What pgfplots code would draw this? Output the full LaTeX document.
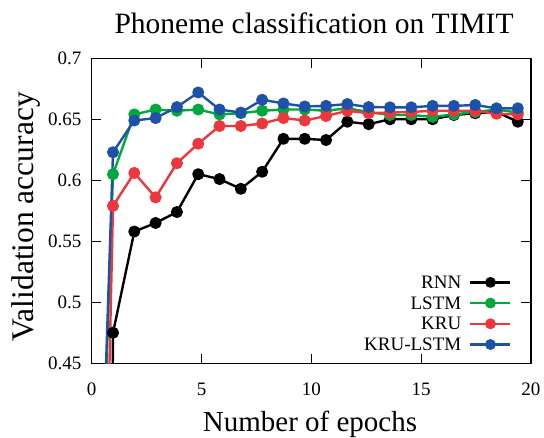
\documentclass[border=0pt]{standalone}
\usepackage{fontspec}
\setmainfont{Liberation Serif}
\usepackage{pgfplots}
\pgfplotsset{compat=1.18}
\definecolor{cgreen}{RGB}{0,168,62}
\definecolor{cred}{RGB}{236,56,60}
\definecolor{cblue}{RGB}{30,82,168}
\begin{document}
\begin{tikzpicture}
\begin{axis}[
  scale only axis, width=439.3pt, height=305pt,
  xmin=0, xmax=20, ymin=0.45, ymax=0.7,
  xtick={0,5,10,15,20}, ytick={0.45,0.5,0.55,0.6,0.65,0.7},
  xticklabels={0,5,10,15,20},
  yticklabels={0.45,0.5,0.55,0.6,0.65,0.7},
  tick pos=both, tick align=inside, major tick length=9.5pt,
  minor tick num=0,
  axis line style={line width=1.2pt},
  every tick/.style={line width=1pt, black},
  ticklabel style={font=\fontsize{19}{21}\selectfont\rmfamily, inner sep=0pt},
  xticklabel style={yshift=-19.4pt},
  yticklabel style={xshift=-10pt},
  every axis title shift=0pt,
  title={Phoneme classification on TIMIT},
  title style={font=\fontsize{29.5}{32}\selectfont, at={(axis description cs:0.5061,1.082)}, anchor=base, inner sep=0pt},
  xlabel={Number of epochs},
  xlabel style={font=\fontsize{29}{32}\selectfont, at={(axis description cs:0.4969,-0.2250)}, anchor=base, inner sep=0pt},
  ylabel={Validation accuracy},
  ylabel style={font=\fontsize{31.5}{34}\selectfont, at={(axis description cs:-0.1336,0.4803)}, anchor=base, inner sep=0pt},
  legend style={draw=none, fill=none, at={(axis description cs:0.956,0.0413)}, anchor=south east,
    inner sep=0pt, outer sep=0pt, column sep=8pt, row sep=8.3pt,
    font=\fontsize{19}{21}\selectfont,
    nodes={inner sep=0pt, text height=12.4pt, text depth=0pt}},
  legend cell align=right, legend plot pos=right,
  legend image code/.code={\draw[mark repeat=2, mark phase=2, mark size=4.2pt] plot coordinates {(0pt,0pt) (20pt,0pt) (40pt,0pt)};},
  every axis plot/.append style={line width=2.4pt, mark=*, mark size=4.8pt, line join=round},
]
\addplot[color=black, mark options={solid, fill=black}] coordinates {
 (0.9,0.30) (0.97,0.475) (1.94,0.558) (2.91,0.565) (3.88,0.574) (4.85,0.605)
 (5.82,0.601) (6.79,0.593) (7.76,0.607) (8.73,0.634) (9.70,0.634)
 (10.67,0.633) (11.64,0.648) (12.61,0.646) (13.58,0.650) (14.55,0.650)
 (15.52,0.650) (16.49,0.6535) (17.46,0.655) (18.43,0.656) (19.40,0.648)};
\addlegendentry{RNN}
\addplot[color=cgreen, mark options={solid, fill=cgreen}] coordinates {
 (0.2,0.20) (0.97,0.605) (1.94,0.654) (2.91,0.658) (3.88,0.657) (4.85,0.658)
 (5.82,0.654) (6.79,0.655) (7.76,0.657) (8.73,0.658) (9.70,0.658)
 (10.67,0.657) (11.64,0.659) (12.61,0.656) (13.58,0.6535) (14.55,0.6535)
 (15.52,0.652) (16.49,0.654) (17.46,0.656) (18.43,0.658) (19.40,0.6555)};
\addlegendentry{LSTM}
\addplot[color=cred, mark options={solid, fill=cred}] coordinates {
 (0.5,0.20) (0.97,0.579) (1.94,0.606) (2.91,0.586) (3.88,0.614) (4.85,0.630)
 (5.82,0.6445) (6.79,0.6445) (7.76,0.6465) (8.73,0.651) (9.70,0.649)
 (10.67,0.6527) (11.64,0.657) (12.61,0.655) (13.58,0.6555) (14.55,0.656)
 (15.52,0.657) (16.49,0.657) (17.46,0.657) (18.43,0.6545) (19.40,0.654)};
\addlegendentry{KRU}
\addplot[color=cblue, mark options={solid, fill=cblue}] coordinates {
 (0.2,0.20) (0.97,0.623) (1.94,0.649) (2.91,0.651) (3.88,0.660) (4.85,0.672)
 (5.82,0.658) (6.79,0.6555) (7.76,0.666) (8.73,0.663) (9.70,0.6605)
 (10.67,0.661) (11.64,0.6625) (12.61,0.660) (13.58,0.6598) (14.55,0.6598)
 (15.52,0.661) (16.49,0.661) (17.46,0.6617) (18.43,0.659) (19.40,0.659)};
\addlegendentry{KRU-LSTM}
\end{axis}
\pgfresetboundingbox
\path ([shift={(-91.7pt,-74.7pt)}]current axis.south west) rectangle ([shift={(13pt,58.3pt)}]current axis.north east);
\end{tikzpicture}
\end{document}
